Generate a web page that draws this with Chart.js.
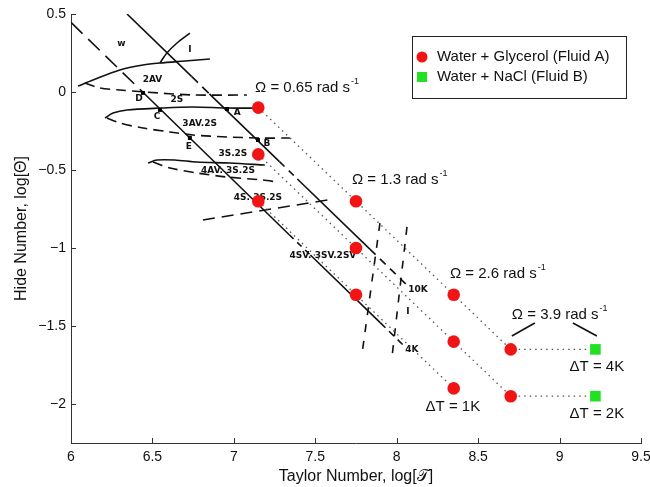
<!DOCTYPE html>
<html>
<head>
<meta charset="utf-8">
<script src="https://cdn.jsdelivr.net/npm/chart.js@4.4.0/dist/chart.umd.min.js"></script>
<style>
    html, body { margin: 0; padding: 0; background: #fff; }
    #regimeChart { display: block; }
</style>
</head>
<body>
<canvas id="regimeChart" width="650" height="487"></canvas>
<script>
// tick labels
const xTicks = [6, 6.5, 7, 7.5, 8, 8.5, 9, 9.5];
const yTicks = [0.5, 0, -0.5, -1, -1.5, -2];

// log Taylor number of each rotation rate (0.65, 1.3, 2.6, 3.9 rad/s)
const omegaLogT = [7.15, 7.75, 8.35, 8.7];

// log Hide number, fluid A (water + glycerol), one row per temperature difference
const fluidA_dT4 = [-0.1, -0.7, -1.3, -1.65];
const fluidA_dT2 = [-0.4, -1.0, -1.6, -1.95];
const fluidA_dT1 = [-0.7, -1.3, -1.9];

// fluid B (water + NaCl), at 3.9 rad/s
const fluidB_logT = [9.22, 9.22];
const fluidB_hide = [-1.65, -1.95];

// regime boundaries, [logT, logHide]
const diagA_dash1 = [[6.0, 0.446], [6.44, 0.0]];
const diagA_solid1 = [[6.44, 0.0], [7.34, -0.915]];
const diagA_dash2 = [[7.34, -0.915], [7.47, -1.045]];
const diagA_solid2 = [[7.47, -1.045], [7.90, -1.48]];
const diagA_dash3 = [[7.90, -1.48], [8.05, -1.633]];

const diagB_solid1 = [[6.344, 0.5], [6.74, 0.10]];
const diagB_dash1 = [[6.74, 0.10], [6.85, -0.012]];
const diagB_solid2 = [[6.85, -0.012], [7.28, -0.446]];
const diagB_dash2 = [[7.28, -0.446], [7.39, -0.558]];
const diagB_solid3 = [[7.39, -0.558], [7.835, -1.007]];
const diagB_dash3 = [[7.835, -1.007], [8.08, -1.255]];

const curveW = [[6.043, 0.038], [6.135, 0.077], [6.30, 0.141], [6.442, 0.173], [6.546, 0.186], [6.70, 0.199], [6.853, 0.212]];
const curveI = [[6.546, 0.186], [6.589, 0.25], [6.651, 0.314], [6.73, 0.378]];
const curve2AV = [[6.086, 0.058], [6.178, 0.026], [6.30, 0.013], [6.454, 0.0], [6.749, -0.019], [7.08, -0.019]];
const curve2S = [[6.209, -0.167], [6.258, -0.135], [6.344, -0.115], [6.546, -0.103], [6.749, -0.096], [6.958, -0.103], [7.148, -0.103]];
const curve3AV = [[6.221, -0.167], [6.301, -0.199], [6.442, -0.231], [6.608, -0.256], [6.749, -0.276], [6.958, -0.288], [7.16, -0.295], [7.344, -0.295]];
const curve3S = [[6.473, -0.455], [6.528, -0.436], [6.638, -0.436], [6.773, -0.449], [6.976, -0.455], [7.19, -0.468]];
const curve4AV = [[6.503, -0.449], [6.608, -0.487], [6.773, -0.519], [6.958, -0.545], [7.179, -0.564], [7.265, -0.577]];
const line4S = [[6.81, -0.82], [7.59, -0.69]];
const steep10K = [[8.063, -0.865], [7.971, -1.699]];
const steep4K = [[7.897, -0.84], [7.786, -1.686]];

// points D, C, A, E, B
const markedPts = [[6.442, -0.006], [6.546, -0.115], [6.958, -0.109], [6.73, -0.295], [7.148, -0.308]];

// leader lines under the 3.9 rad/s label
const brace1 = [[8.707, -1.564], [8.848, -1.481]];
const brace2 = [[9.082, -1.481], [9.229, -1.564]];

const regimeLabels = [
    ['w', 6.31, 0.31], ['I', 6.73, 0.27], ['2AV', 6.50, 0.077], ['D', 6.417, -0.045],
    ['2S', 6.65, -0.051], ['C', 6.528, -0.16], ['A', 7.02, -0.135], ['3AV.2S', 6.79, -0.20],
    ['E', 6.724, -0.353], ['B', 7.203, -0.333], ['3S.2S', 6.994, -0.397],
    ['4AV. 3S.2S', 6.964, -0.506], ['4S. 3S.2S', 7.148, -0.68], ['4SV. 3SV.2SV', 7.547, -1.05],
    ['10K', 8.13, -1.27], ['I', 8.069, -1.41], ['4K', 8.093, -1.654]
];
const omegaNotes = [
    ['Ω = 0.65 rad s', 7.13, 0.026], ['Ω = 1.3 rad s', 7.725, -0.564],
    ['Ω = 2.6 rad s', 8.327, -1.165], ['Ω = 3.9 rad s', 8.707, -1.43]
];
const deltaNotes = [['ΔT = 4K', 9.229, -1.763], ['ΔT = 2K', 9.229, -2.064], ['ΔT = 1K', 8.345, -2.019]];

const FONT = "'Liberation Sans', Arial, sans-serif";

function pts(pairs) {
    return pairs.map(p => ({ x: p[0], y: p[1] }));
}

function solid(pairs, tension) {
    return { data: pts(pairs), showLine: true, borderColor: '#111', borderWidth: 1.6,
             pointRadius: 0, tension: tension || 0 };
}

function dashed(pairs, dash, tension) {
    return { data: pts(pairs), showLine: true, borderColor: '#111', borderWidth: 1.6,
             borderDash: dash || [9, 6], pointRadius: 0, tension: tension || 0 };
}

function dotted(xs, ys, extraX, extraY) {
    const data = xs.slice(0, ys.length).map((x, i) => ({ x: x, y: ys[i] }));
    if (extraX !== undefined) data.push({ x: extraX, y: extraY });
    return { data: data, showLine: true, borderColor: '#555', borderWidth: 1.3,
             borderDash: [1.5, 4], pointRadius: 0 };
}

const fluidAPoints = []
    .concat(fluidA_dT4.map((y, i) => ({ x: omegaLogT[i], y: y })))
    .concat(fluidA_dT2.map((y, i) => ({ x: omegaLogT[i], y: y })))
    .concat(fluidA_dT1.map((y, i) => ({ x: omegaLogT[i], y: y })));

const datasets = [
    { label: 'Water + Glycerol (Fluid A)', data: fluidAPoints, pointStyle: 'circle',
      pointRadius: 6.3, pointBackgroundColor: '#f01414', pointBorderWidth: 0, showLine: false },
    { label: 'Water + NaCl (Fluid B)', data: fluidB_logT.map((x, i) => ({ x: x, y: fluidB_hide[i] })),
      pointStyle: 'rect', pointRadius: 7.5, pointBackgroundColor: '#22e022', pointBorderWidth: 0, showLine: false },
    { data: pts(markedPts), pointStyle: 'rect', pointRadius: 2.8, pointBackgroundColor: '#000',
      pointBorderWidth: 0, showLine: false },
    dotted(omegaLogT, fluidA_dT4, fluidB_logT[0], fluidB_hide[0]),
    dotted(omegaLogT, fluidA_dT2, fluidB_logT[1], fluidB_hide[1]),
    dotted(omegaLogT, fluidA_dT1),
    solid(brace1), solid(brace2),
    dashed(diagA_dash1, [16, 8]), solid(diagA_solid1), dashed(diagA_dash2, [6, 5]),
    solid(diagA_solid2), dashed(diagA_dash3, [7, 5]),
    solid(diagB_solid1), dashed(diagB_dash1, [9, 6]), solid(diagB_solid2), dashed(diagB_dash2, [7, 6]),
    solid(diagB_solid3), dashed(diagB_dash3, [8, 6]),
    solid(curveW, 0.3), solid(curveI, 0.3), dashed(curve2AV, [10, 6], 0.3), solid(curve2S, 0.3),
    dashed(curve3AV, [10, 6], 0.3), solid(curve3S, 0.3), dashed(curve4AV, [10, 6], 0.3),
    dashed(line4S, [12, 7]), dashed(steep10K, [8, 9]), dashed(steep4K, [8, 9])
];

function withSuperscript(ctx, text, x, y, size) {
    ctx.font = size + 'px ' + FONT;
    ctx.textAlign = 'left';
    ctx.textBaseline = 'middle';
    ctx.fillText(text, x, y);
    const w = ctx.measureText(text).width;
    ctx.font = Math.round(size * 0.62) + 'px ' + FONT;
    ctx.fillText('-1', w + x + 1, y - size * 0.42);
}

const annotationPlugin = {
    id: 'annotations',
    beforeDatasetsDraw(chart) {
        const { ctx, scales: { x, y } } = chart;
        ctx.save();
        ctx.fillStyle = '#111';
        ctx.font = "bold 9px 'DejaVu Sans', sans-serif";
        ctx.textAlign = 'center';
        ctx.textBaseline = 'middle';
        regimeLabels.forEach(l => ctx.fillText(l[0], x.getPixelForValue(l[1]), y.getPixelForValue(l[2])));
        ctx.restore();
    },
    afterDraw(chart) {
        const { ctx, chartArea, scales: { x, y } } = chart;
        ctx.save();
        ctx.fillStyle = '#111';
        omegaNotes.forEach(n => withSuperscript(ctx, n[0], x.getPixelForValue(n[1]), y.getPixelForValue(n[2]), 15));
        ctx.font = '15px ' + FONT;
        ctx.textAlign = 'center';
        ctx.textBaseline = 'middle';
        deltaNotes.forEach(n => ctx.fillText(n[0], x.getPixelForValue(n[1]), y.getPixelForValue(n[2])));

        // inward tick marks
        ctx.strokeStyle = '#333';
        ctx.lineWidth = 1;
        ctx.beginPath();
        xTicks.forEach(v => {
            const px = Math.round(x.getPixelForValue(v)) + 0.5;
            ctx.moveTo(px, chartArea.bottom);
            ctx.lineTo(px, chartArea.bottom - 5);
        });
        yTicks.forEach(v => {
            const py = Math.round(y.getPixelForValue(v)) + 0.5;
            ctx.moveTo(chartArea.left, py);
            ctx.lineTo(chartArea.left + 5, py);
        });
        ctx.stroke();

        // boxed legend, top right
        const bx = chartArea.right - 229, by = chartArea.top + 22, bw = 214, bh = 62;
        ctx.fillStyle = '#fff';
        ctx.fillRect(bx, by, bw, bh);
        ctx.strokeStyle = '#222';
        ctx.strokeRect(bx + 0.5, by + 0.5, bw, bh);
        const items = chart.data.datasets.slice(0, 2);
        items.forEach((ds, i) => {
            const cy = by + 21 + i * 20;
            ctx.fillStyle = ds.pointBackgroundColor;
            if (ds.pointStyle === 'circle') {
                ctx.beginPath();
                ctx.arc(bx + 10, cy, 5.5, 0, Math.PI * 2);
                ctx.fill();
            } else {
                ctx.fillRect(bx + 5, cy - 5, 10, 10);
            }
            ctx.fillStyle = '#111';
            ctx.font = '15px ' + FONT;
            ctx.textAlign = 'left';
            ctx.textBaseline = 'middle';
            ctx.fillText(ds.label, bx + 25, cy);
        });
        ctx.restore();
    }
};

const regimeChart = new Chart(document.getElementById('regimeChart').getContext('2d'), {
    type: 'scatter',
    data: { datasets: datasets },
    plugins: [annotationPlugin],
    options: {
        responsive: false,
        animation: false,
        devicePixelRatio: 1,
        layout: { padding: { top: 14, right: 9, left: 0, bottom: 0 } },
        plugins: { legend: { display: false }, tooltip: { enabled: false } },
        scales: {
            x: {
                type: 'linear', min: 6, max: 9.5,
                afterBuildTicks: s => { s.ticks = xTicks.map(v => ({ value: v })); },
                afterFit: s => { s.height = 44; s.paddingLeft = 0; s.paddingRight = 0; },
                grid: { display: false, drawTicks: false },
                border: { display: true, color: '#333', width: 1 },
                ticks: { padding: 6, color: '#111', font: { family: FONT, size: 14 }, maxRotation: 0,
                         callback: v => String(v) },
                title: { display: true, text: 'Taylor Number, log[𝒯]', color: '#111',
                         font: { family: FONT, size: 16 }, padding: { top: 0, bottom: 1 } }
            },
            y: {
                type: 'linear', min: -2.25, max: 0.5,
                afterBuildTicks: s => { s.ticks = yTicks.map(v => ({ value: v })); },
                afterFit: s => { s.width = 71; },
                grid: { display: false, drawTicks: false },
                border: { display: true, color: '#333', width: 1 },
                ticks: { padding: 5, color: '#111', font: { family: FONT, size: 14 },
                         callback: v => String(v).replace('-', '\u2212') },
                title: { display: true, text: 'Hide Number, log[Θ]', color: '#111',
                         font: { family: FONT, size: 16 }, padding: { top: 12, bottom: 0 } }
            }
        }
    }
});
</script>
</body>
</html>
